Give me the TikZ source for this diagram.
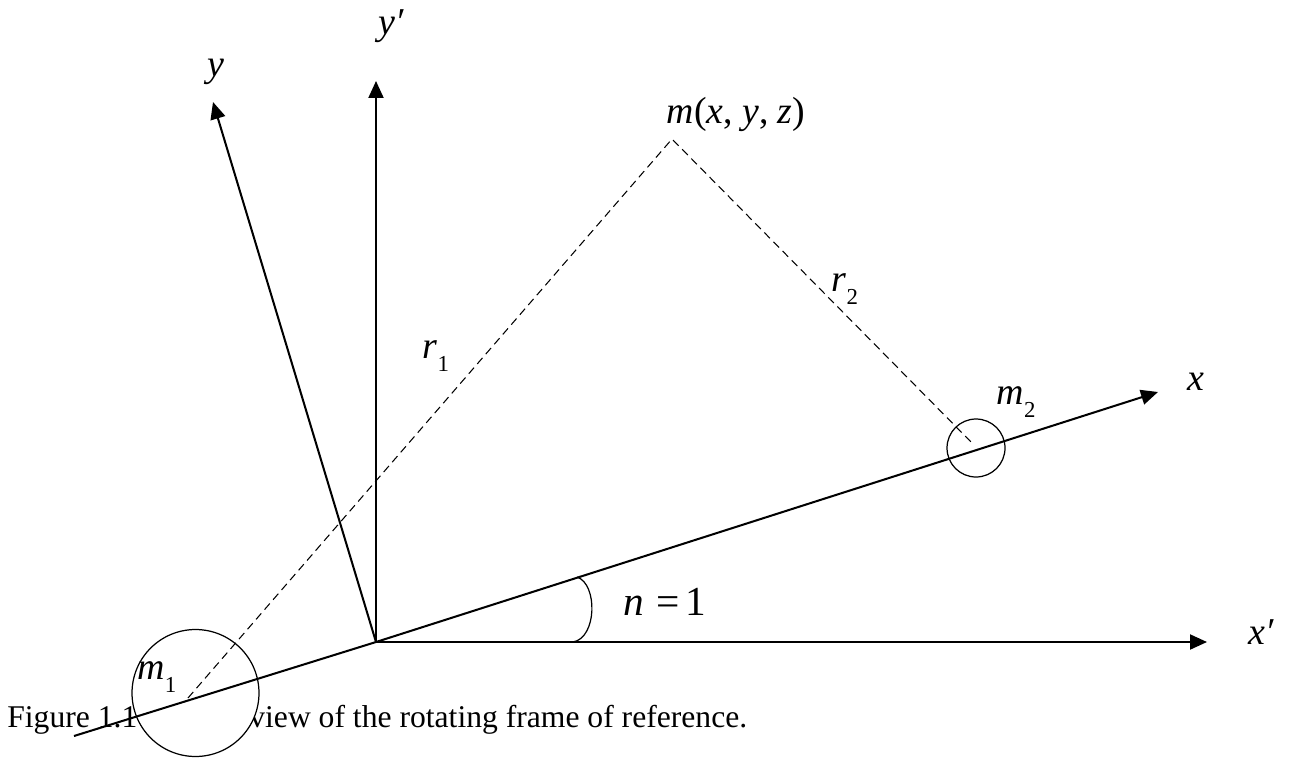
\documentclass[tikz,border=0pt]{standalone}
\usepackage{fontspec}
\setmainfont{Liberation Serif}
\usetikzlibrary{arrows.meta}
\newcommand{\labfont}{\fontsize{21.6}{24}\selectfont\itshape}
\newcommand{\capfont}{\fontsize{18}{22}\selectfont}
\newcommand{\lowsub}[1]{\raisebox{-0.32em}{\upshape\fontsize{13}{14}\selectfont #1}}
\tikzset{
    axis/.style={line width=1.15pt, -{Triangle[length=0.34cm,width=0.3cm]}},
    dist/.style={line width=0.6pt, dash pattern=on 0.16cm off 0.1cm},
    body/.style={circle, draw, line width=0.7pt, fill=white, inner sep=0pt},
    lab/.style={font=\labfont, inner sep=0pt},
}
\begin{document}
\begin{tikzpicture}[x=0.02cm, y=-0.02cm]
    \useasboundingbox (0,0) rectangle (1297,757);

    % Points of the two frames
    \coordinate (O) at (376,642);
    \coordinate (xs) at (74,736);
    \coordinate (xe) at (1158,392);
    \coordinate (xpe) at (1207,642);
    \coordinate (ye) at (213,102);
    \coordinate (ype) at (376,81);
    \coordinate (M) at (672,139);
    \coordinate (foot1) at (188,698);
    \coordinate (foot2) at (974,445);

    % Caption (partly hidden by the first mass)
    \node[font=\capfont, anchor=base west, inner sep=0pt] (capa) at (7,727) {Figure 1.1};
    \node[font=\capfont, anchor=base west, inner sep=0pt] (capb) at (249,727) {view of the rotating frame of reference.};

    % The two masses
    \node[body, minimum size=2.54cm] (m1c) at (195.5,693) {};
    \node[body, minimum size=1.16cm] (m2c) at (976,448) {};

    % Distances to the point m
    \draw[dist] (foot1) -- (M) -- (foot2);

    % Rotating and fixed axes
    \draw[axis] (xs) -- (O) -- (xe);
    \draw[axis] (O) -- (xpe);
    \draw[axis] (O) -- (ye);
    \draw[axis] (O) -- (ype);

    % Angle between x and x'
    \coordinate (a1) at (573,642);
    \coordinate (a2) at (577,577);
    \draw[line width=0.7pt] (a1) .. controls (597,638) and (598,584) .. (a2);

    % Labels
    \node[lab] (ylab) at (216,72) {y};
    \node[lab] (yplab) at (391,26) {y′};
    \node[lab] (xlab) at (1196,382) {x};
    \node[lab] (xplab) at (1261,632) {x′};
    \node[lab, font=\fontsize{21.5}{24}\selectfont] (mlab) at (736,114) {\textit{m}(\textit{x}, \textit{y}, \textit{z})};
    \node[lab] (r1lab) at (436,356) {r\lowsub{1}};
    \node[lab] (r2lab) at (845,289) {r\lowsub{2}};
    \node[lab] (m1lab) at (157,677) {m\lowsub{1}};
    \node[lab] (m2lab) at (1016,402) {m\lowsub{2}};
    \node[lab, font=\fontsize{23.5}{26}\selectfont] (nlab) at (665,602) {\textit{n}\hspace{0.3em}=\hspace{0.15em}1};
\end{tikzpicture}
\end{document}
